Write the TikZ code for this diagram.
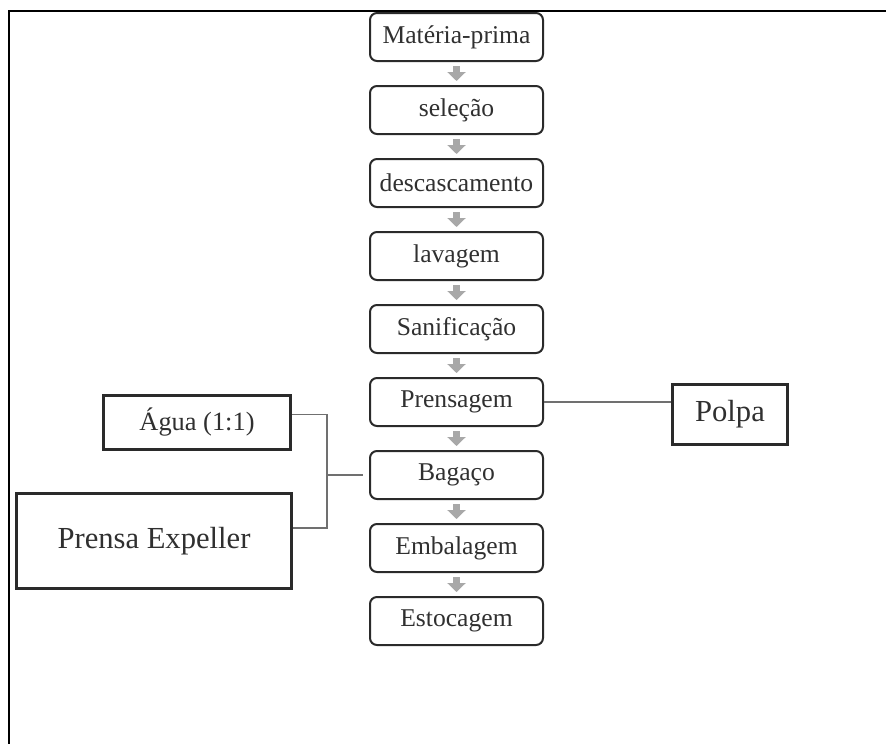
\documentclass[tikz,border=0pt]{standalone}
\usepackage{fontspec}
\setmainfont{Liberation Serif}
\usepackage{xcolor}
\usetikzlibrary{arrows.meta, positioning, calc}

\definecolor{boxline}{HTML}{2A2A2A}
\definecolor{boxtext}{HTML}{303030}
\definecolor{flowgray}{HTML}{A8A8A8}
\definecolor{linkgray}{HTML}{707070}

\begin{document}
\begin{tikzpicture}[
    stepbox/.style={rectangle, draw=boxline, line width=1pt, rounded corners=3.5pt, minimum width=86.5pt, minimum height=24pt, inner sep=0pt, text=boxtext, font=\fontsize{12.8}{15}\selectfont},
    sidebox/.style={rectangle, draw=boxline, line width=1.5pt, inner sep=0pt, text=boxtext},
    flow/.style={-{Triangle[width=9pt, length=4.5pt]}, draw=flowgray, line width=3.4pt, shorten <=2pt, shorten >=2pt},
    link/.style={draw=linkgray, line width=0.6pt}
]
    \useasboundingbox (0,0) rectangle (443pt,-372pt);
    % frame (top and left only)
    \draw[line width=1.1pt, black] (443pt,-5.5pt) -- (4.5pt,-5.5pt) -- (4.5pt,-372pt);

    \node[stepbox] (materia) at (228.25pt,-18.5pt) {Matéria-prima};
    \node[stepbox, below=11.5pt of materia] (selecao) {seleção};
    \node[stepbox, below=11.5pt of selecao] (descasc) {descascamento};
    \node[stepbox, below=11.5pt of descasc] (lavagem) {lavagem};
    \node[stepbox, below=11.5pt of lavagem] (sanif) {Sanificação};
    \node[stepbox, below=11.5pt of sanif] (prensagem) {Prensagem};
    \node[stepbox, below=11.5pt of prensagem] (bagaco) {Bagaço};
    \node[stepbox, below=11.5pt of bagaco] (embal) {Embalagem};
    \node[stepbox, below=11.5pt of embal] (estoc) {Estocagem};

    \node[sidebox, minimum width=57.5pt, minimum height=30pt, font=\fontsize{15.3}{18}\selectfont,
          right=63.5pt of prensagem, yshift=-6pt] (polpa) {Polpa};
    \node[sidebox, minimum width=93.5pt, minimum height=27pt, font=\fontsize{13.2}{16}\selectfont,
          above left=12pt and 38.5pt of bagaco.west] (agua) {Água (1:1)};
    \node[sidebox, minimum width=137.5pt, minimum height=47.5pt, font=\fontsize{15.3}{18}\selectfont,
          below left=8.5pt and 38pt of bagaco.west] (expeller) {Prensa Expeller};

    \foreach \a/\b in {materia/selecao, selecao/descasc, descasc/lavagem, lavagem/sanif,
                       sanif/prensagem, prensagem/bagaco, bagaco/embal, embal/estoc}
        \draw[flow] (\a) -- (\b);

    \draw[link] (prensagem.east) -- (prensagem.east -| polpa.west);

    \coordinate (jn) at ($(bagaco.west)+(-21pt,0)$);
    \draw[link] ([yshift=4pt]agua.east) -| (jn) |- ([yshift=6.5pt]expeller.east);
    \draw[link, shorten >=3pt] (jn) -- (bagaco.west);
\end{tikzpicture}
\end{document}
